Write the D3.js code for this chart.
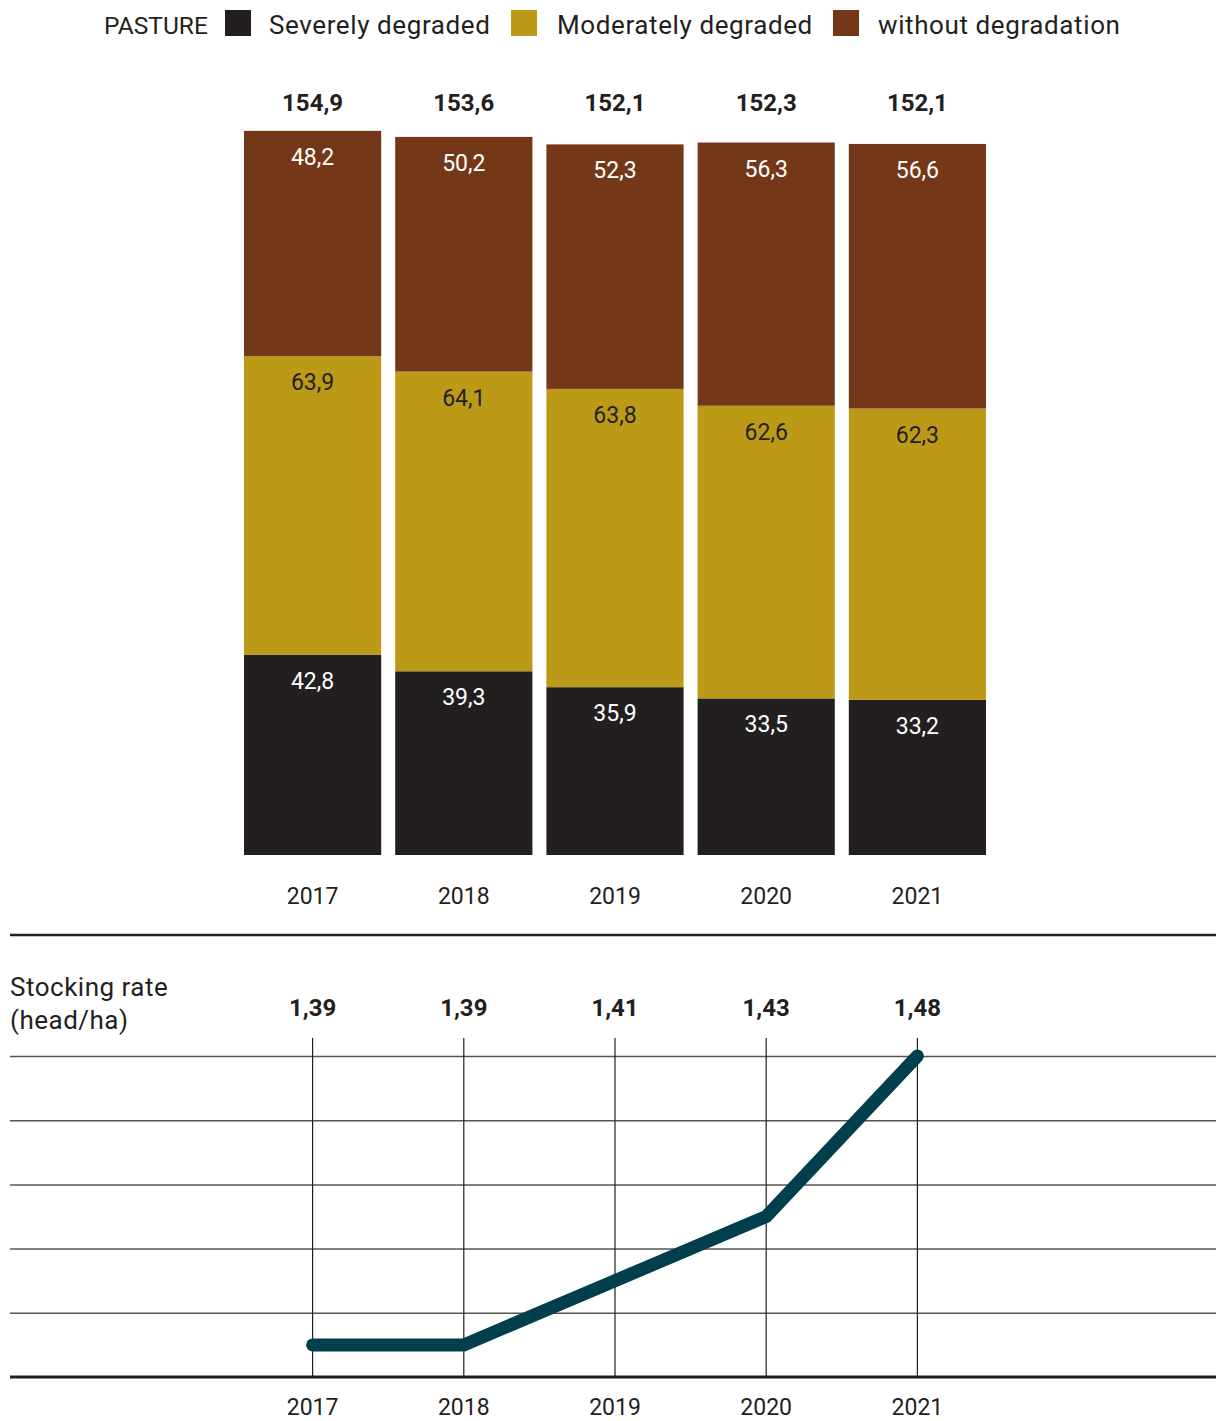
<!DOCTYPE html>
<html>
<head>
<meta charset="utf-8">
<script src="https://cdn.jsdelivr.net/npm/d3@7"></script>
<style>
  html, body { margin: 0; padding: 0; background: #ffffff; }
  svg { display: block; font-family: Roboto, "Noto Sans", sans-serif; }
</style>
</head>
<body>
<svg id="chart" width="1216" height="1421"></svg>
<script>
// ---- data ----
const years = ["2017", "2018", "2019", "2020", "2021"];
const severelyDegraded = [42.8, 39.3, 35.9, 33.5, 33.2];
const moderatelyDegraded = [63.9, 64.1, 63.8, 62.6, 62.3];
const withoutDegradation = [48.2, 50.2, 52.3, 56.3, 56.6];
const totals = [154.9, 153.6, 152.1, 152.3, 152.1];
const stockingRate = [1.39, 1.39, 1.41, 1.43, 1.48];
const stockingTicks = [1.38, 1.40, 1.42, 1.44, 1.46, 1.48];
const seriesNames = ["Severely degraded", "Moderately degraded", "without degradation"];
const seriesKeys = ["severe", "moderate", "without"];
const seriesColors = ["#231f20", "#bc9a18", "#743819"];

const ink = "#231f20";
const loc = d3.formatLocale({decimal: ",", thousands: " ", grouping: [3], currency: ["", ""]});
const f1 = loc.format(".1f");
const f2 = loc.format(".2f");

const svg = d3.select("#chart");

// ---- legend ----
const legend = svg.append("g");
legend.append("text").attr("x", 104).attr("y", 34).attr("font-size", 24.5).attr("fill", ink).text("PASTURE");
const legendSquareX = [225, 511, 833];
const legendTextX = [269, 557, 878];
seriesNames.forEach((n, i) => {
  legend.append("rect").attr("x", legendSquareX[i]).attr("y", 10).attr("width", 26).attr("height", 26).attr("fill", seriesColors[i]);
  legend.append("text").attr("x", legendTextX[i]).attr("y", 34).attr("font-size", 26).attr("letter-spacing", 0.6).attr("fill", ink).text(n);
});

// ---- stacked bars ----
const table = years.map((y, i) => ({year: y, severe: severelyDegraded[i], moderate: moderatelyDegraded[i], without: withoutDegradation[i], total: totals[i]}));
const x = d3.scaleBand().domain(years).range([244, 986]).paddingInner(0.0926).paddingOuter(0);
const y = d3.scaleLinear().domain([0, 160]).range([855, 107]);
const stack = d3.stack().keys(seriesKeys)(table);

const bars = svg.append("g");
stack.forEach((layer, li) => {
  const g = bars.append("g");
  g.selectAll("rect").data(layer).join("rect")
    .attr("x", d => x(d.data.year))
    .attr("width", x.bandwidth())
    .attr("y", d => y(d[1]))
    .attr("height", d => y(d[0]) - y(d[1]))
    .attr("fill", seriesColors[li]);
  g.selectAll("text").data(layer).join("text")
    .attr("x", d => x(d.data.year) + x.bandwidth() / 2)
    .attr("y", d => y(d[1]) + 34)
    .attr("text-anchor", "middle")
    .attr("font-size", 23)
    .attr("fill", li === 1 ? ink : "#ffffff")
    .text(d => f1(d.data[seriesKeys[li]]));
});

// totals
bars.append("g").selectAll("text").data(table).join("text")
  .attr("x", d => x(d.year) + x.bandwidth() / 2)
  .attr("y", 111)
  .attr("text-anchor", "middle")
  .attr("font-size", 24)
  .attr("font-weight", "bold")
  .attr("fill", ink)
  .text(d => f1(d.total));

// year axis for bars
const xAxisBars = svg.append("g").attr("transform", "translate(0,855)")
  .call(d3.axisBottom(x).tickSize(0).tickPadding(0));
xAxisBars.select(".domain").remove();
xAxisBars.selectAll("text").attr("font-size", 23).attr("fill", ink).attr("font-family", "Roboto, sans-serif").attr("dy", 0).attr("y", 49);

// separator
svg.append("line").attr("x1", 10).attr("x2", 1216).attr("y1", 935).attr("y2", 935).attr("stroke", ink).attr("stroke-width", 2.5);

// ---- stocking rate line chart ----
const yl = d3.scaleLinear().domain([1.38, 1.48]).range([1377, 1056]);
const cx = d => x(d) + x.bandwidth() / 2;

svg.append("text").attr("x", 10).attr("y", 996).attr("font-size", 26).attr("letter-spacing", 0.5).attr("fill", ink).text("Stocking rate");
svg.append("text").attr("x", 10).attr("y", 1029).attr("font-size", 26).attr("letter-spacing", 0.5).attr("fill", ink).text("(head/ha)");

// horizontal grid
const grid = svg.append("g").attr("transform", "translate(10,0)")
  .call(d3.axisLeft(yl).tickValues(stockingTicks.filter(v => v > 1.38)).tickSize(0).tickFormat(""));
grid.select(".domain").remove();
grid.selectAll(".tick line").attr("x1", 0).attr("x2", 1206).attr("stroke", "#555555").attr("stroke-width", 1.5);

// vertical lines
svg.append("g").selectAll("line").data(years).join("line")
  .attr("x1", d => cx(d)).attr("x2", d => cx(d))
  .attr("y1", 1038).attr("y2", 1377)
  .attr("stroke", ink).attr("stroke-width", 1.2);

// bottom axis
const xAxisLine = svg.append("g").attr("transform", "translate(0,1377)")
  .call(d3.axisBottom(x).tickSize(0).tickPadding(0));
xAxisLine.select(".domain").remove();
xAxisLine.selectAll("text").attr("font-size", 23).attr("fill", ink).attr("font-family", "Roboto, sans-serif").attr("dy", 0).attr("y", 38);
svg.append("line").attr("x1", 10).attr("x2", 1216).attr("y1", 1377).attr("y2", 1377).attr("stroke", ink).attr("stroke-width", 3);

// line
const lineData = years.map((yr, i) => ({year: yr, v: stockingRate[i]}));
svg.append("path").datum(lineData)
  .attr("d", d3.line().x(d => cx(d.year)).y(d => yl(d.v)))
  .attr("fill", "none").attr("stroke", "#023f4d").attr("stroke-width", 13)
  .attr("stroke-linecap", "round").attr("stroke-linejoin", "miter");

// values
svg.append("g").selectAll("text").data(lineData).join("text")
  .attr("x", d => cx(d.year)).attr("y", 1016)
  .attr("text-anchor", "middle").attr("font-size", 24).attr("font-weight", "bold").attr("fill", ink)
  .text(d => f2(d.v));
</script>
</body>
</html>
